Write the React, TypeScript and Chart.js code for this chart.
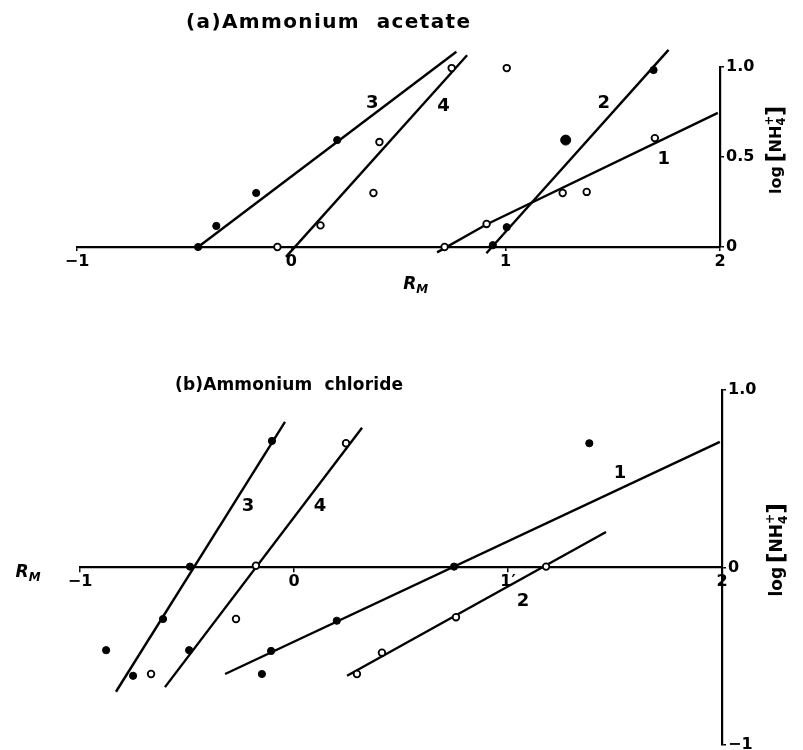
import React, { useEffect, useRef } from "react";
import { Chart, registerables } from "chart.js";
Chart.register(...registerables);

const FONT = '"DejaVu Sans", "Liberation Sans", sans-serif';
const WEIGHT = "bold";

// ---------- Panel (a): Ammonium acetate ----------
const aXTicks = [-1, 0, 1, 2];
const aXTickLabels = ["\u22121", "0", "1", "2"];
const aYTicks = [0, 0.5, 1.0];
const aYTickLabels = ["0", "0.5", "1.0"];

// fitted lines
const aLine1X = [0.68, 0.91, 1.99];
const aLine1Y = [-0.03, 0.125, 0.745];
const aLine2X = [0.91, 1.76];
const aLine2Y = [-0.035, 1.095];
const aLine3X = [-0.435, 0.77];
const aLine3Y = [0.0, 1.085];
const aLine4X = [-0.025, 0.82];
const aLine4Y = [-0.055, 1.065];

// measured points
const aPts1X = [0.715, 0.911, 1.266, 1.378, 1.696, 1.005];
const aPts1Y = [0.0, 0.128, 0.3, 0.306, 0.605, 0.994];
const aPts2X = [0.94, 1.005, 1.69];
const aPts2Y = [0.01, 0.11, 0.983];
const aPts2BigX = [1.28];
const aPts2BigY = [0.594];
const aPts3X = [-0.435, -0.35, -0.164, 0.214];
const aPts3Y = [0.0, 0.117, 0.3, 0.594];
const aPts4X = [-0.065, 0.136, 0.383, 0.411, 0.748];
const aPts4Y = [0.0, 0.12, 0.3, 0.583, 0.994];

const aLabelText = ["3", "4", "2", "1"];
const aLabelX = [0.378, 0.71, 1.458, 1.738];
const aLabelY = [0.8, 0.783, 0.8, 0.489];
const aRmX = 0.58;
const aRmY = -0.21;

// ---------- Panel (b): Ammonium chloride ----------
const bXTicks = [-1, 0, 1, 2];
const bXTickLabels = ["\u22121", "0", "1\u2032", "2"];
const bYTicks = [-1, 0, 1.0];
const bYTickLabels = ["\u22121", "0", "1.0"];

const bLine1X = [-0.322, 1.99];
const bLine1Y = [-0.6, 0.708];
const bLine2X = [0.248, 1.458];
const bLine2Y = [-0.61, 0.2];
const bLine3X = [-0.832, -0.042];
const bLine3Y = [-0.7, 0.82];
const bLine4X = [-0.603, 0.318];
const bLine4Y = [-0.674, 0.787];

const bPts1X = [-0.107, 0.2, 0.748, 1.38, -0.15];
const bPts1Y = [-0.47, -0.3, 0.005, 0.7, -0.6];
const bPts2X = [0.294, 0.411, 0.757, 1.178];
const bPts2Y = [-0.6, -0.48, -0.28, 0.005];
const bPts3X = [-0.103, -0.486, -0.612, -0.752, -0.878];
const bPts3Y = [0.713, 0.005, -0.29, -0.61, -0.466];
const bPts4OpenX = [0.243, -0.178, -0.668, -0.271];
const bPts4OpenY = [0.7, 0.01, -0.6, -0.29];
const bPts4FilledX = [-0.49];
const bPts4FilledY = [-0.466];

const bLabelText = ["3", "4", "1", "2"];
const bLabelX = [-0.215, 0.121, 1.523, 1.07];
const bLabelY = [0.343, 0.343, 0.528, -0.19];
const bRmX = -1.243;
const bRmY = -0.03;

// ---------- helpers ----------
const pts = (xs: number[], ys: number[]) => xs.map((x, i) => ({ x, y: ys[i] }));

const lineDs = (xs: number[], ys: number[]) => ({
  type: "line" as const,
  data: pts(xs, ys),
  borderColor: "#000",
  borderWidth: 2.4,
  pointRadius: 0,
  fill: false,
  tension: 0,
  clip: false as any,
  showLine: true,
  order: 2,
});

const filledDs = (xs: number[], ys: number[], r = 3.6) => ({
  type: "scatter" as const,
  data: pts(xs, ys),
  pointRadius: r,
  pointBackgroundColor: "#000",
  pointBorderColor: "#000",
  pointBorderWidth: 1,
  showLine: false,
  clip: false as any,
  order: 0,
});

const openDs = (xs: number[], ys: number[]) => ({
  type: "scatter" as const,
  data: pts(xs, ys),
  pointRadius: 3.3,
  pointBackgroundColor: "#fff",
  pointBorderColor: "#000",
  pointBorderWidth: 1.8,
  showLine: false,
  clip: false as any,
  order: 0,
});

function fitText(ctx: CanvasRenderingContext2D, text: string, x: number, y: number, size: number, width: number) {
  ctx.save();
  ctx.font = `${WEIGHT} ${size}px ${FONT}`;
  (ctx as any).letterSpacing = "0px";
  const w0 = ctx.measureText(text).width;
  const ls = (width - w0) / Math.max(1, text.length - 1);
  (ctx as any).letterSpacing = `${ls}px`;
  ctx.fillStyle = "#000";
  ctx.textAlign = "left";
  ctx.textBaseline = "middle";
  ctx.fillText(text, x, y);
  ctx.restore();
}

function drawRM(ctx: CanvasRenderingContext2D, cx: number, cy: number, size: number) {
  ctx.save();
  ctx.fillStyle = "#000";
  ctx.textBaseline = "middle";
  ctx.textAlign = "left";
  ctx.font = `italic ${WEIGHT} ${size}px ${FONT}`;
  const wR = ctx.measureText("R").width;
  const subSize = size * 0.7;
  ctx.font = `italic ${WEIGHT} ${subSize}px ${FONT}`;
  const wM = ctx.measureText("M").width;
  const x0 = cx - (wR + wM) / 2;
  ctx.font = `italic ${WEIGHT} ${size}px ${FONT}`;
  ctx.fillText("R", x0, cy);
  ctx.font = `italic ${WEIGHT} ${subSize}px ${FONT}`;
  ctx.fillText("M", x0 + wR, cy + size * 0.28);
  ctx.restore();
}

function drawLogLabel(ctx: CanvasRenderingContext2D, cx: number, cy: number, size: number) {
  const parts: { t: string; s: number; dy: number }[] = [
    { t: "log", s: size, dy: 0 },
    { t: " ", s: size * 0.6, dy: 0 },
    { t: "[", s: size * 1.4, dy: 0 },
    { t: "NH", s: size, dy: 0 },
    { t: "4", s: size * 0.72, dy: size * 0.32 },
    { t: "+", s: size * 0.72, dy: -size * 0.45 },
    { t: "]", s: size * 1.4, dy: 0 },
  ];
  ctx.save();
  ctx.translate(cx, cy);
  ctx.rotate(-Math.PI / 2);
  ctx.fillStyle = "#000";
  ctx.textBaseline = "middle";
  ctx.textAlign = "left";
  const widths = parts.map((p) => {
    ctx.font = `${WEIGHT} ${p.s}px ${FONT}`;
    return ctx.measureText(p.t).width;
  });
  const total = widths[0] + widths[1] + widths[2] + widths[3] + Math.max(widths[4], widths[5]) + widths[6];
  let x = -total / 2;
  for (let i = 0; i < parts.length; i++) {
    const p = parts[i];
    ctx.font = `${WEIGHT} ${p.s}px ${FONT}`;
    if (i === 5) {
      ctx.fillText(p.t, x - widths[4], p.dy);
      x += Math.max(0, widths[5] - widths[4]);
      continue;
    }
    ctx.fillText(p.t, x, p.dy);
    x += widths[i];
  }
  ctx.restore();
}

function makeScales(
  xTicks: number[],
  xLabels: string[],
  yTicks: number[],
  yLabels: string[],
  yMin: number,
  yMax: number,
  xPosition: any,
  xHeight: number | null,
  yWidth: number
) {
  const tickFont = { family: FONT, size: 16, weight: WEIGHT as any };
  return {
    x: {
      type: "linear" as const,
      min: -1,
      max: 2,
      position: xPosition,
      afterFit: (s: any) => {
        if (xHeight !== null) s.height = xHeight;
      },
      afterBuildTicks: (s: any) => {
        s.ticks = xTicks.map((v) => ({ value: v }));
      },
      ticks: {
        color: "#000",
        font: tickFont,
        padding: 1,
        maxRotation: 0,
        autoSkip: false,
        callback: (v: any) => {
          const i = xTicks.indexOf(Number(v));
          return i >= 0 ? xLabels[i] : "";
        },
      },
      grid: { display: true, drawOnChartArea: false, drawTicks: true, tickLength: 4, color: "#000", lineWidth: 1.5 },
      border: { display: true, color: "#000", width: 2.2 },
    },
    y: {
      type: "linear" as const,
      min: yMin,
      max: yMax,
      position: "right" as const,
      afterFit: (s: any) => {
        s.width = yWidth;
      },
      afterBuildTicks: (s: any) => {
        s.ticks = yTicks.map((v) => ({ value: v }));
      },
      ticks: {
        color: "#000",
        font: tickFont,
        padding: 2,
        autoSkip: false,
        callback: (v: any) => {
          const i = yTicks.findIndex((t) => Math.abs(t - Number(v)) < 1e-9);
          return i >= 0 ? yLabels[i] : "";
        },
      },
      grid: { display: true, drawOnChartArea: false, drawTicks: true, tickLength: 4, color: "#000", lineWidth: 1.5 },
      border: { display: true, color: "#000", width: 2.2 },
    },
  };
}

function drawLabels(chart: any, texts: string[], xs: number[], ys: number[], size: number) {
  const ctx = chart.ctx as CanvasRenderingContext2D;
  const sx = chart.scales.x;
  const sy = chart.scales.y;
  ctx.save();
  ctx.fillStyle = "#000";
  ctx.font = `${WEIGHT} ${size}px ${FONT}`;
  ctx.textAlign = "center";
  ctx.textBaseline = "middle";
  texts.forEach((t, i) => ctx.fillText(t, sx.getPixelForValue(xs[i]), sy.getPixelForValue(ys[i])));
  ctx.restore();
}

export default function App() {
  const refA = useRef<HTMLCanvasElement>(null);
  const refB = useRef<HTMLCanvasElement>(null);

  useEffect(() => {
    const common = {
      responsive: false,
      animation: false as const,
      maintainAspectRatio: false,
      events: [] as any[],
      plugins: { legend: { display: false }, tooltip: { enabled: false }, title: { display: false } },
    };

    const annotA = {
      id: "annotA",
      afterDraw(chart: any) {
        const ctx = chart.ctx as CanvasRenderingContext2D;
        fitText(ctx, "(a)Ammonium  acetate", 186, 23, 20, 284);
        drawLabels(chart, aLabelText, aLabelX, aLabelY, 18);
        drawRM(ctx, chart.scales.x.getPixelForValue(aRmX), chart.scales.y.getPixelForValue(aRmY), 17);
        drawLogLabel(ctx, chart.scales.y.left + 57, chart.scales.y.getPixelForValue(0.54), 16);
      },
    };

    const annotB = {
      id: "annotB",
      afterDraw(chart: any) {
        const ctx = chart.ctx as CanvasRenderingContext2D;
        fitText(ctx, "(b)Ammonium  chloride", 175, 16, 17, 228);
        drawLabels(chart, bLabelText, bLabelX, bLabelY, 18);
        drawRM(ctx, chart.scales.x.getPixelForValue(bRmX), chart.scales.y.getPixelForValue(bRmY), 17);
        drawLogLabel(ctx, chart.scales.y.left + 56, chart.scales.y.getPixelForValue(0.1), 17);
      },
    };

    const chartA = new Chart(refA.current as HTMLCanvasElement, {
      type: "scatter",
      data: {
        datasets: [
          openDs(aPts1X, aPts1Y),
          filledDs(aPts2X, aPts2Y),
          filledDs(aPts2BigX, aPts2BigY, 5),
          filledDs(aPts3X, aPts3Y),
          openDs(aPts4X, aPts4Y),
          lineDs(aLine1X, aLine1Y),
          lineDs(aLine2X, aLine2Y),
          lineDs(aLine3X, aLine3Y),
          lineDs(aLine4X, aLine4Y),
        ] as any,
      },
      options: {
        ...common,
        layout: { padding: { left: 77, top: 67, right: 0, bottom: 0 } },
        scales: makeScales(aXTicks, aXTickLabels, aYTicks, aYTickLabels, 0, 1, "bottom", 370 - 247, 803 - 720) as any,
      },
      plugins: [annotA],
    });

    const chartB = new Chart(refB.current as HTMLCanvasElement, {
      type: "scatter",
      data: {
        datasets: [
          filledDs(bPts1X, bPts1Y),
          openDs(bPts2X, bPts2Y),
          filledDs(bPts3X, bPts3Y),
          openDs(bPts4OpenX, bPts4OpenY),
          filledDs(bPts4FilledX, bPts4FilledY),
          lineDs(bLine1X, bLine1Y),
          lineDs(bLine2X, bLine2Y),
          lineDs(bLine3X, bLine3Y),
          lineDs(bLine4X, bLine4Y),
        ] as any,
      },
      options: {
        ...common,
        layout: { padding: { left: 80, top: 20, right: 0, bottom: 15 } },
        scales: makeScales(bXTicks, bXTickLabels, bYTicks, bYTickLabels, -1, 1, { y: 0 }, null, 803 - 722) as any,
      },
      plugins: [annotB],
    });

    return () => {
      chartA.destroy();
      chartB.destroy();
    };
  }, []);

  return (
    <div
      style={{
        position: "fixed",
        left: 0,
        top: 0,
        width: 803,
        height: 750,
        overflow: "hidden",
        background: "#fff",
      }}
    >
      <canvas ref={refA} width={803} height={370} style={{ position: "absolute", left: 0, top: 0, width: 803, height: 370 }} />
      <canvas ref={refB} width={803} height={390} style={{ position: "absolute", left: 0, top: 370, width: 803, height: 390 }} />
    </div>
  );
}
